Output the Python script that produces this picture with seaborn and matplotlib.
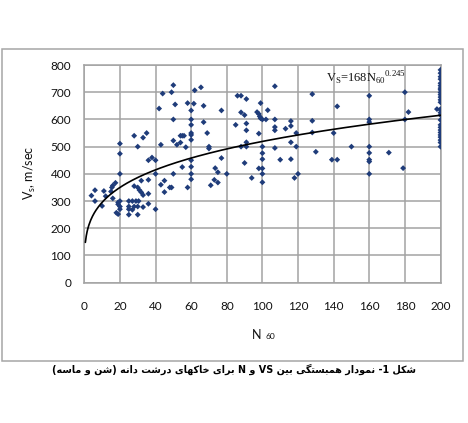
import re
import numpy as np
import pandas as pd
import matplotlib
matplotlib.use("Agg")
import matplotlib.pyplot as plt
from matplotlib.patches import Rectangle
import seaborn as sns

# ---------------- data ----------------
n60 = [4, 6, 6, 10, 11, 12, 15, 15.5, 16, 16, 17.5, 18, 19, 19, 19, 20, 20, 20, 20, 20, 20,
       25, 27, 29, 30.5, 25, 28, 30, 33, 36, 25, 27, 40, 25, 30, 28, 30, 32, 36, 31, 32, 33, 36,
       28, 30, 33, 35, 36, 38, 40, 40, 42, 43, 44, 49, 50, 50, 51, 50, 52, 54, 55, 56, 54, 57,
       55, 50, 43, 45, 45, 48, 49, 58, 58, 60, 60, 60, 60, 60, 60, 60, 60, 60, 60,
       61.5, 62, 65.5, 67, 67, 69, 70, 70, 71, 73, 75, 73.5, 75, 77, 77, 80,
       85, 86, 88, 91, 88, 90, 91, 91, 91, 88, 91, 90, 94,
       97, 98, 98.5, 99, 99, 100, 102, 103, 98, 100, 100, 100, 98, 100, 100, 100,
       107, 107, 107, 107, 107, 110, 113, 116, 116, 116, 116, 119, 119, 118, 120,
       128, 128, 128, 130, 140, 142, 139, 142, 150,
       160, 160, 160, 160, 160, 160, 160, 160, 171, 179, 180, 180, 182, 198,
       200, 200, 200, 200, 200, 200, 200, 200, 200, 200, 200, 200, 200, 200,
       200, 200, 200, 200, 200, 200, 200, 200, 200, 200, 200, 200, 200]
vs = [320, 340, 300, 282, 337, 318, 335, 350, 357, 310, 367, 257, 252, 295, 288, 300, 280, 270, 400, 474, 511,
      300, 300, 300, 300, 280, 280, 280, 278, 290, 270, 268, 270, 250, 250, 355, 350, 375, 378, 340, 332, 322, 327,
      540, 500, 533, 550, 450, 460, 450, 400, 640, 507, 695, 700, 726, 600, 655, 522, 507, 540, 540, 540, 515, 498,
      425, 400, 360, 375, 333, 350, 350, 350, 660, 633, 600, 580, 550, 543, 525, 450, 426, 400, 380,
      658, 707, 718, 650, 590, 550, 500, 493, 358, 378, 368, 421, 406, 633, 458, 400,
      580, 687, 687, 675, 626, 616, 585, 560, 516, 500, 500, 440, 385,
      627, 620, 611, 604, 660, 600, 600, 634, 548, 500, 476, 454, 420, 420, 400, 369,
      722, 600, 572, 560, 495, 452, 566, 594, 576, 516, 454, 550, 500, 385, 400,
      693, 595, 552, 481, 550, 648, 452, 452, 500,
      687, 600, 590, 500, 477, 452, 445, 400, 478, 421, 700, 600, 627, 638,
      782, 770, 757, 748, 733, 724, 715, 709, 699, 691, 682, 672, 663, 638,
      635, 625, 616, 598, 580, 571, 561, 552, 543, 535, 524, 515, 500]

fit_coef = 168
fit_exp = 0.245
fit_n_start, fit_n_end = 0.6, 200

x_ticks = [0, 20, 40, 60, 80, 100, 120, 140, 160, 180, 200]
y_ticks = [0, 100, 200, 300, 400, 500, 600, 700, 800]

caption_text = "شکل 1- نمودار همبستگی بین VS و N برای خاکهای درشت دانه (شن و ماسه)"
ylabel_text = r"V$_\mathregular{s}$, m/sec"
equation_text = r"V$_\mathregular{S}$=168N$_\mathregular{60}{}^\mathregular{0.245}$"

# ---------------- simple Persian shaping for matplotlib ----------------
FORMS = {
    'ا': ('\uFE8D', '\uFE8E', None, None),
    'ب': ('\uFE8F', '\uFE90', '\uFE91', '\uFE92'),
    'ت': ('\uFE95', '\uFE96', '\uFE97', '\uFE98'),
    'خ': ('\uFEA5', '\uFEA6', '\uFEA7', '\uFEA8'),
    'د': ('\uFEA9', '\uFEAA', None, None),
    'ر': ('\uFEAD', '\uFEAE', None, None),
    'س': ('\uFEB1', '\uFEB2', '\uFEB3', '\uFEB4'),
    'ش': ('\uFEB5', '\uFEB6', '\uFEB7', '\uFEB8'),
    'ل': ('\uFEDD', '\uFEDE', '\uFEDF', '\uFEE0'),
    'م': ('\uFEE1', '\uFEE2', '\uFEE3', '\uFEE4'),
    'ن': ('\uFEE5', '\uFEE6', '\uFEE7', '\uFEE8'),
    'ه': ('\uFEE9', '\uFEEA', '\uFEEB', '\uFEEC'),
    'و': ('\uFEED', '\uFEEE', None, None),
    'ی': ('\uFBFC', '\uFBFD', '\uFBFE', '\uFBFF'),
    'ک': ('\uFB8E', '\uFB8F', '\uFB90', '\uFB91'),
    'گ': ('\uFB92', '\uFB93', '\uFB94', '\uFB95'),
}
RIGHT_JOIN = set('ادرو')


def shape_rtl(text):
    out = []
    for i, c in enumerate(text):
        if c not in FORMS:
            out.append(c)
            continue
        prev = text[i - 1] if i > 0 else None
        nxt = text[i + 1] if i + 1 < len(text) else None
        jp = prev in FORMS and prev not in RIGHT_JOIN
        jn = nxt in FORMS and c not in RIGHT_JOIN
        iso, fin, ini, med = FORMS[c]
        out.append(med if (jp and jn) else fin if jp else ini if jn else iso)
    vis = ''.join(out)[::-1]
    vis = vis.translate(str.maketrans('()', ')('))
    vis = re.sub(r'[A-Za-z]+', lambda m: m.group(0)[::-1], vis)
    return vis


# ---------------- figure ----------------
sns.set_theme(style="whitegrid")
plt.rcParams['font.family'] = ['Lato', 'DejaVu Sans']

W, H = 468, 423
fig = plt.figure(figsize=(W / 100, H / 100), dpi=100)
ax = fig.add_axes([84.3 / W, 1 - 282.7 / H, (440.5 - 84.3) / W, (282.7 - 65) / H])

df = pd.DataFrame({"N60": n60, "Vs": vs})
sns.scatterplot(data=df, x="N60", y="Vs", ax=ax, marker="D", s=9,
                color="#1f3c7a", edgecolor="none", linewidth=0, zorder=3)

n_fit = np.linspace(fit_n_start, fit_n_end, 400)
fit_df = pd.DataFrame({"N60": n_fit, "Vs": fit_coef * n_fit ** fit_exp})
sns.lineplot(data=fit_df, x="N60", y="Vs", ax=ax, color="black", linewidth=1.2, zorder=4)

grid_c = "#a3a3a3"
ax.set_xlim(0, 200)
ax.set_ylim(0, 800)
ax.set_xticks(x_ticks)
ax.set_yticks(y_ticks)
ax.set_xticklabels([str(t) for t in x_ticks])
ax.set_yticklabels([str(t) for t in y_ticks])
ax.grid(True, color=grid_c, linewidth=1.1)
ax.set_facecolor("white")
for sp in ax.spines.values():
    sp.set_color(grid_c)
    sp.set_linewidth(1.1)
ax.tick_params(axis="both", length=0, labelsize=8.5, colors="#111111")
ax.tick_params(axis="y", pad=9.5)
ax.tick_params(axis="x", pad=13)
ax.set_xlabel("")
ax.set_ylabel("")

# equation
ax.text(135.5, 737, equation_text, fontsize=9, family="Liberation Serif",
        color="#111111", ha="left", va="baseline", zorder=5)

# y label
fig.text(30 / W, 1 - 173 / H, ylabel_text, rotation=90, fontsize=9,
         ha="center", va="center", color="#111111")

# x label "N 60"
fig.text(251.5 / W, 1 - 338.5 / H, "N", fontsize=9, ha="left", va="baseline", color="#111111")
fig.text(265.5 / W, 1 - 338.5 / H, "60", fontsize=6, ha="left", va="baseline", color="#111111")

# outer border
fig.patches.append(Rectangle((2 / W, 1 - 361 / H), (463 - 2) / W, (361 - 49) / H,
                             transform=fig.transFigure, fill=False,
                             edgecolor="#a6a6a6", linewidth=1.1))

# caption
fig.text(234 / W, 1 - 369 / H, shape_rtl(caption_text), fontsize=6.9, fontweight="bold",
         family=["DejaVu Sans"], ha="center", va="center", color="black")

fig.savefig("out.png", dpi=100, facecolor="white")
